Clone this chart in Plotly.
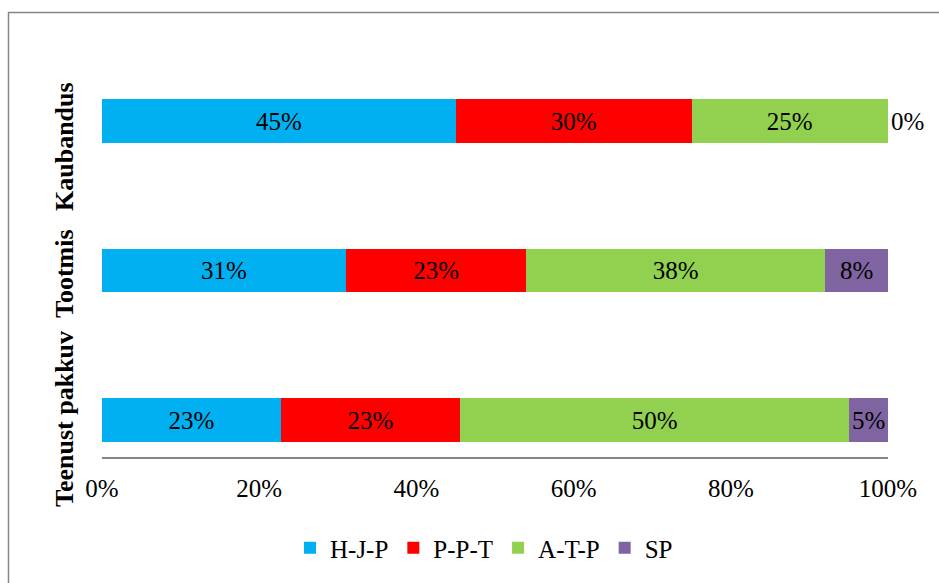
import plotly.graph_objects as go

# Sector categories (bottom to top on the y axis)
categories = ["Teenust pakkuv", "Tootmis", "Kaubandus"]

# Share of each group per sector, in percent
series_names = ["H-J-P", "P-P-T", "A-T-P", "SP"]
hjp = [23, 31, 45]
ppt = [23, 23, 30]
atp = [50, 38, 25]
sp = [5, 8, 0]

colors = ["#00B0F0", "#FF0000", "#92D050", "#8064A2"]
tick_vals = [0, 20, 40, 60, 80, 100]

FONT = "Liberation Serif"

W, H = 939, 583
ML, MR, MT, MB = 102, 51, 84, 126
plot_w = W - ML - MR
plot_h = H - MT - MB


def px_x(px):
    return (px - ML) / plot_w


def px_y(py):
    return (H - MB - py) / plot_h


fig = go.Figure()
for name, vals, col in zip(series_names, [hjp, ppt, atp, sp], colors):
    positions = ["inside" if v > 0 else "outside" for v in vals]
    fig.add_trace(go.Bar(
        y=categories,
        x=vals,
        name=name,
        orientation="h",
        marker=dict(color=col, line=dict(width=0)),
        width=0.288,
        text=[f"{v}%" for v in vals],
        textposition=positions,
        textangle=0,
        insidetextanchor="middle",
        constraintext="none",
        textfont=dict(family=FONT, size=25, color="black"),
        cliponaxis=False,
        hoverinfo="skip",
    ))

fig.update_layout(
    width=W,
    height=H,
    margin=dict(l=ML, r=MR, t=MT, b=MB),
    barmode="stack",
    barnorm="percent",
    paper_bgcolor="white",
    plot_bgcolor="white",
    font=dict(family=FONT, size=25, color="black"),
    showlegend=True,
    legend=dict(
        orientation="h",
        x=px_x(484),
        xanchor="center",
        y=px_y(548),
        yanchor="middle",
        font=dict(family=FONT, size=25, color="black"),
        traceorder="normal",
        bgcolor="rgba(0,0,0,0)",
    ),
    xaxis=dict(
        range=[0, 100],
        tickvals=tick_vals,
        ticktext=[f"{v}%" for v in tick_vals],
        showgrid=False,
        zeroline=False,
        showline=True,
        linecolor="#868686",
        linewidth=1.5,
        ticks="",
        tickfont=dict(family=FONT, size=25, color="black"),
        ticklabelstandoff=8,
    ),
    yaxis=dict(
        type="category",
        categoryorder="array",
        categoryarray=categories,
        range=[-0.2475, 2.2475],
        showticklabels=False,
        showgrid=False,
        zeroline=False,
        showline=False,
        ticks="",
    ),
)

# Rotated sector labels on the left
label_pos = {"Kaubandus": 147, "Tootmis": 274, "Teenust pakkuv": 419}
for lbl, py in label_pos.items():
    fig.add_annotation(
        x=px_x(64), y=px_y(py), xref="paper", yref="paper",
        text=f"<b>{lbl}</b>", textangle=-90, showarrow=False,
        xanchor="center", yanchor="middle",
        font=dict(family=FONT, size=26, color="black"),
    )

# Chart frame
fig.add_shape(
    type="rect", xref="paper", yref="paper",
    x0=px_x(8.5), x1=px_x(960), y0=px_y(12.5), y1=px_y(600),
    line=dict(color="#868686", width=1.5), fillcolor="rgba(0,0,0,0)",
    layer="below",
)

fig.write_html("out.html")
